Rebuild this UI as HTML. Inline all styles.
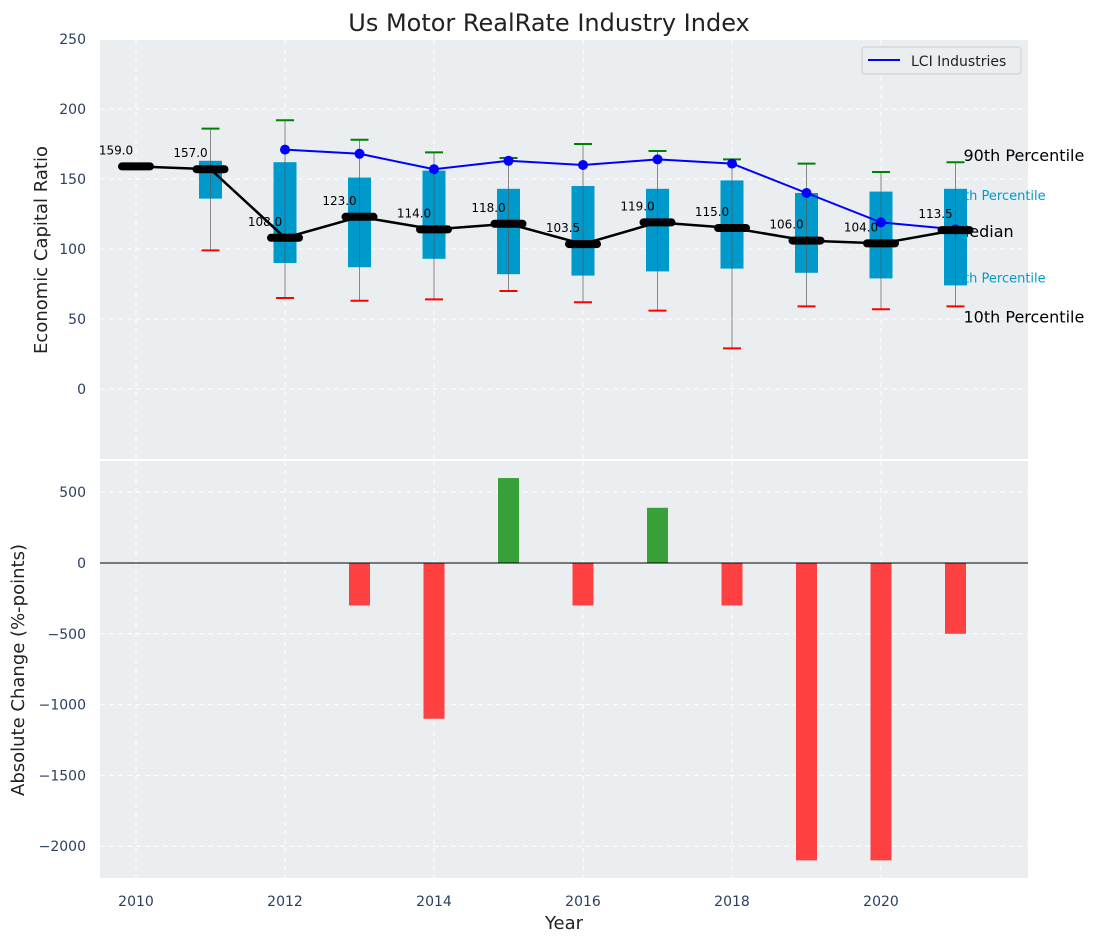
<!DOCTYPE html>
<html><head><meta charset="utf-8"><style>
body{margin:0;background:#fff;font-family:"Liberation Sans","DejaVu Sans",sans-serif}
svg text{font-family:"DejaVu Sans","Liberation Sans",sans-serif}
</style></head><body>
<svg id="chart" width="1098" height="942" xmlns="http://www.w3.org/2000/svg">
<text x="549" y="31" font-size="24" text-anchor="middle" fill="#222">Us Motor RealRate Industry Index</text>
<rect x="100" y="40" width="928" height="419" fill="#eaeef0"/>
<rect x="100" y="461" width="928" height="417" fill="#eaeef0"/>
<g id="grid"></g><g id="top"></g><g id="bottom"></g><g id="axes"></g>
<text transform="translate(47,250) rotate(-90)" font-size="18" text-anchor="middle" fill="#222">Economic Capital Ratio</text>
<text transform="translate(24,670) rotate(-90)" font-size="18" text-anchor="middle" fill="#222">Absolute Change (%-points)</text>
<text x="564" y="929" font-size="18" text-anchor="middle" fill="#222">Year</text>
<g>
<rect x="862" y="47" width="159" height="27" rx="3" fill="#eaeef0" stroke="#ccc"/>
<line x1="868" y1="60" x2="900" y2="60" stroke="#00f" stroke-width="2"/>
<text x="911" y="66" font-size="14" fill="#222">LCI Industries</text>
</g>
</svg>
<script>
const years=[2010,2011,2012,2013,2014,2015,2016,2017,2018,2019,2020,2021];
const p90=[161,186,192,178,169,165,175,170,164,161,155,162];
const p75=[160,163,162,151,156,143,145,143,149,140,141,143];
const median=[159,157,108,123,114,118,103.5,119,115,106,104,113.5];
const p25=[159,136,90,87,93,82,81,84,86,83,79,74];
const p10=[159,99,65,63,64,70,62,56,29,59,57,59];
const lciYears=[2012,2013,2014,2015,2016,2017,2018,2019,2020,2021];
const lci=[171,168,157,163,160,164,161,140,119,114];
const changes=[0,0,0,-300,-1100,600,-300,390,-300,-2100,-2100,-500];
const yTicksTop=[0,50,100,150,200,250];
const yTicksBot=[-2000,-1500,-1000,-500,0,500];
const xTicks=[2010,2012,2014,2016,2018,2020];

const NS='http://www.w3.org/2000/svg';
const X=v=>136+(v-2010)*74.5;
const YT=v=>389-1.4*v;
const YB=v=>563-0.1416*v;
function mk(p,tag,a,txt){const e=document.createElementNS(NS,tag);for(const k in a)e.setAttribute(k,a[k]);if(txt!==undefined)e.textContent=txt;p.appendChild(e);return e;}
const grid=document.getElementById('grid'),top_=document.getElementById('top'),bot=document.getElementById('bottom'),axes=document.getElementById('axes');
const gs={stroke:'#fff','stroke-dasharray':'5,4','stroke-width':1};
xTicks.forEach(t=>{
 let l=mk(grid,'line',Object.assign({x1:X(t),x2:X(t),y1:40,y2:459},gs));
 
 
 l=mk(grid,'line',Object.assign({x1:X(t),x2:X(t),y1:461,y2:878},gs));
 
 
 const tx=mk(axes,'text',{x:X(t),y:906,'font-size':14,'text-anchor':'middle',fill:'#2a3f5f'},t);
 
 
});
yTicksTop.forEach(t=>{
 const l=mk(grid,'line',Object.assign({x1:100,x2:1028,y1:YT(t),y2:YT(t)},gs));
 
 
 const tx=mk(axes,'text',{x:86,y:YT(t)+5,'font-size':14,'text-anchor':'end',fill:'#2a3f5f'},t);
 
 
});
yTicksBot.forEach(t=>{
 const l=mk(grid,'line',Object.assign({x1:100,x2:1028,y1:YB(t),y2:YB(t)},gs));
 
 
 const tx=mk(axes,'text',{x:86,y:YB(t)+5,'font-size':14,'text-anchor':'end',fill:'#2a3f5f'},(t<0?'\u2212'+(-t):t));
 
 
});
const lx=X(2021);
[['90th Percentile',p90,16,'#000',8,-1],['75th Percentile',p75,13,'#0099cc',-8,11],['Median',median,16,'#000',0,7],['25th Percentile',p25,13,'#0099cc',-8,-3],['10th Percentile',p10,16,'#000',8,16]].forEach(r=>{
 const tx=mk(top_,'text',{x:lx+r[4],y:YT(r[1][11])+r[5],'font-size':r[2],fill:r[3]},r[0]);
 
 
});
years.forEach((y,i)=>{
 const x=X(y);
 let e=mk(top_,'line',{x1:x,x2:x,y1:YT(p90[i]),y2:YT(p10[i]),stroke:'#888','stroke-width':1});
 
 
 e=mk(top_,'rect',{x:x-11.5,y:YT(p75[i]),width:23,height:YT(p25[i])-YT(p75[i]),fill:'#0099cc'});
 
 
 e=mk(top_,'line',{x1:x,x2:x,y1:YT(p75[i]),y2:YT(p25[i]),stroke:'#555','stroke-width':1,opacity:0.6});
 
 
 e=mk(top_,'line',{x1:x-9,x2:x+9,y1:YT(p90[i]),y2:YT(p90[i]),stroke:'green','stroke-width':2});
 
 
 if(i>0){e=mk(top_,'line',{x1:x-9,x2:x+9,y1:YT(p10[i]),y2:YT(p10[i]),stroke:'red','stroke-width':2});
 
 }
});
let lp=lciYears.map((y,i)=>X(y)+','+YT(lci[i])).join(' ');
let e=mk(top_,'polyline',{points:lp,fill:'none',stroke:'#00f','stroke-width':2});


lciYears.forEach((y,i)=>{const c=mk(top_,'circle',{cx:X(y),cy:YT(lci[i]),r:5,fill:'#00f'});
 
 });
e=mk(top_,'polyline',{points:years.map((y,i)=>X(y)+','+YT(median[i])).join(' '),fill:'none',stroke:'#000','stroke-width':2.5});


years.forEach((y,i)=>{
 const x=X(y);
 let m=mk(top_,'line',{x1:x-14,x2:x+14,y1:YT(median[i]),y2:YT(median[i]),stroke:'#000','stroke-width':8,'stroke-linecap':'round'});
 
 
 m=mk(top_,'text',{x:x-20,y:YT(median[i])-12,'font-size':12,'text-anchor':'middle',fill:'#000'},median[i].toFixed(1));
 
 
});
years.forEach((y,i)=>{
 const v=changes[i];if(v===0)return;
 const r=mk(bot,'rect',{x:X(y)-10.5,y:Math.min(YB(v),YB(0)),width:21,height:Math.abs(YB(v)-YB(0)),fill:v>0?'#38a038':'#ff4040'});
 
 
});
e=mk(bot,'line',{x1:100,x2:1028,y1:YB(0),y2:YB(0),stroke:'#000','stroke-width':1});


</script>
</body></html>
